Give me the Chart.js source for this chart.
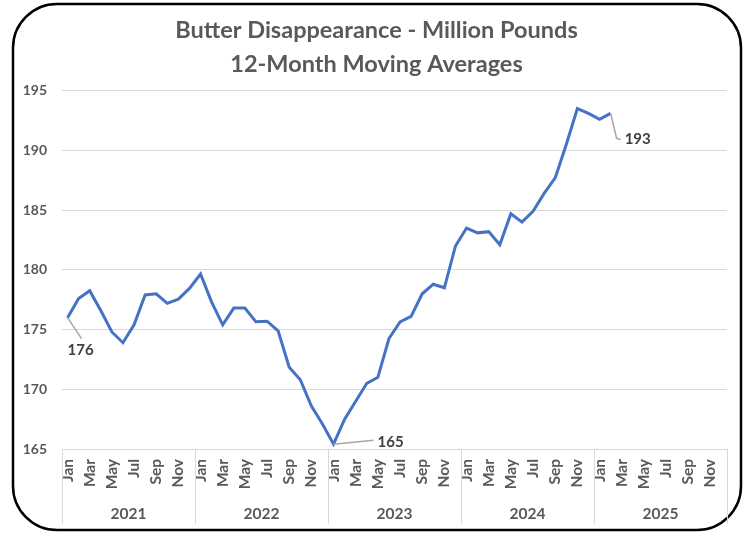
<!DOCTYPE html>
<html>
<head>
<meta charset="utf-8">
<script src="https://cdn.jsdelivr.net/npm/chart.js@4"></script>
<style>
html,body{margin:0;padding:0;background:#fff;}
#wrap{position:relative;width:754px;height:542px;}
canvas{display:block;}
</style>
</head>
<body>
<div id="wrap"><canvas id="c" width="754" height="542"></canvas></div>
<script>
const titleLines = ["Butter Disappearance - Million Pounds", "12-Month Moving Averages"];
const monthNames = ["Jan","Feb","Mar","Apr","May","Jun","Jul","Aug","Sep","Oct","Nov","Dec"];
const years = ["2021","2022","2023","2024","2025"];
const yTicks = [165, 170, 175, 180, 185, 190, 195];
const values = [
  176.0, 177.6, 178.25, 176.6, 174.8, 173.9, 175.4, 177.9, 178.0, 177.2, 177.55, 178.45,
  179.65, 177.3, 175.4, 176.8, 176.8, 175.65, 175.7, 174.9, 171.85, 170.8, 168.6, 167.1,
  165.4, 167.5, 169.0, 170.5, 171.0, 174.25, 175.65, 176.1, 178.0, 178.8, 178.5, 182.0,
  183.5, 183.1, 183.2, 182.1, 184.7, 184.0, 184.9, 186.4, 187.7, 190.5, 193.5, 193.1,
  192.6, 193.1
];
const labelledPoints = [0, 24, 49];

const categories = [];
years.forEach(y => monthNames.forEach(m => categories.push(m + " " + y)));

const GREY = "#595959";
const FONT = "Lato, 'Open Sans', sans-serif";

const framePlugin = {
  id: "frame",
  afterDraw(chart) {
    const ctx = chart.ctx;
    ctx.save();
    ctx.strokeStyle = "#000";
    ctx.lineWidth = 2.5;
    ctx.beginPath();
    ctx.roundRect(13, 4, 728, 526, 44);
    ctx.stroke();
    ctx.restore();
  }
};

const separatorPlugin = {
  id: "separators",
  afterDraw(chart) {
    const xs = chart.scales.x, x2 = chart.scales.x2;
    const ctx = chart.ctx;
    ctx.save();
    ctx.strokeStyle = "#d9d9d9";
    ctx.lineWidth = 1;
    const n = years.length;
    for (let k = 0; k <= n; k++) {
      const px = Math.round(xs.left + k * (xs.right - xs.left) / n) + 0.5;
      ctx.beginPath();
      ctx.moveTo(px, chart.chartArea.bottom);
      ctx.lineTo(px, x2.bottom - 10);
      ctx.stroke();
    }
    ctx.restore();
  }
};

const annotationGeom = {
  0:  {pts: [[14, 21]], tx: 0, ty: 33},
  24: {pts: [[40, -4]], tx: 44, ty: -2},
  49: {pts: [[6, 25], [10, 26]], tx: 14, ty: 26}
};

const annotatePlugin = {
  id: "annotate",
  afterDatasetsDraw(chart) {
    const ctx = chart.ctx;
    const xs = chart.scales.x, ys = chart.scales.y;
    ctx.save();
    labelledPoints.forEach(i => {
      const px = xs.getPixelForValue(i);
      const py = ys.getPixelForValue(values[i]);
      const g = annotationGeom[i];
      ctx.strokeStyle = "#a6a6a6";
      ctx.lineWidth = 1.5;
      ctx.beginPath();
      ctx.moveTo(px, py);
      g.pts.forEach(p => ctx.lineTo(px + p[0], py + p[1]));
      ctx.stroke();
      ctx.fillStyle = "#404040";
      ctx.font = "bold 15px " + FONT;
      ctx.textAlign = "left";
      ctx.textBaseline = "middle";
      ctx.fillText(String(Math.round(values[i])), px + g.tx, py + g.ty);
    });
    ctx.restore();
  }
};

new Chart(document.getElementById("c"), {
  type: "line",
  data: {
    labels: categories,
    datasets: [{
      data: values,
      borderColor: "#4472C4",
      borderWidth: 3,
      pointRadius: 0,
      tension: 0,
      fill: false,
      xAxisID: "x",
      yAxisID: "y"
    }]
  },
  options: {
    responsive: false,
    animation: false,
    devicePixelRatio: 1,
    layout: { padding: { left: 12, right: 13, top: 0, bottom: 8 } },
    plugins: {
      legend: { display: false },
      tooltip: { enabled: false },
      title: {
        display: true,
        text: titleLines,
        color: GREY,
        font: { family: FONT, size: 23.5, weight: "bold", lineHeight: 1.42 },
        padding: { top: 14, bottom: 10 }
      }
    },
    scales: {
      x: {
        type: "category",
        position: "bottom",
        offset: true,
        grid: { display: false, drawTicks: false },
        border: { display: true, color: "#d9d9d9", width: 1 },
        ticks: {
          autoSkip: false,
          maxRotation: 90,
          minRotation: 90,
          padding: 10,
          color: GREY,
          font: { family: FONT, size: 15.5, weight: "bold" },
          callback: function (v, i) { return i % 2 === 0 ? monthNames[i % 12] : ""; }
        },
        afterFit: s => { s.height = 52; }
      },
      x2: {
        type: "category",
        position: "bottom",
        labels: years,
        offset: true,
        grid: { display: false, drawTicks: false },
        border: { display: false },
        ticks: {
          autoSkip: false,
          maxRotation: 0,
          padding: 4,
          color: GREY,
          font: { family: FONT, size: 15.5, weight: "bold" }
        },
        afterFit: s => { s.height = 33; }
      },
      y: {
        min: yTicks[0],
        max: yTicks[yTicks.length - 1],
        afterBuildTicks: s => { s.ticks = yTicks.map(v => ({ value: v })); },
        grid: { color: "#d9d9d9", lineWidth: 1, drawTicks: false },
        border: { display: false },
        ticks: {
          padding: 15,
          color: GREY,
          font: { family: FONT, size: 14, weight: "bold" }
        },
        afterFit: s => { s.width = 50; }
      },
      yPad: {
        position: "right",
        display: true,
        grid: { display: false, drawTicks: false },
        border: { display: false },
        ticks: { display: false },
        afterFit: s => { s.width = 14; }
      }
    }
  },
  plugins: [framePlugin, separatorPlugin, annotatePlugin]
});
</script>
</body>
</html>
